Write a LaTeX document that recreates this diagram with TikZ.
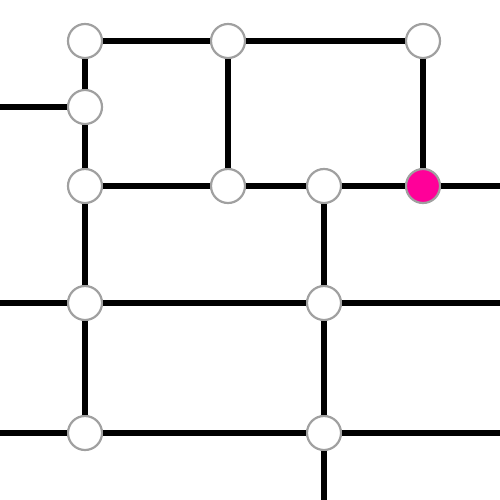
\documentclass[tikz,border=0pt]{standalone}
\definecolor{nodegray}{HTML}{A0A0A0}
\definecolor{hot}{HTML}{FF0099}
\begin{document}
\begin{tikzpicture}[x=0.01cm,y=-0.01cm,
  edge/.style={line width=0.06cm,black},
  vtx/.style={circle,draw=nodegray,line width=0.022cm,fill=white,minimum size=0.34cm,inner sep=0pt},
  hotvtx/.style={vtx,fill=hot}]
\useasboundingbox (0,0) rectangle (500,500);
\coordinate (L1) at (0,107);
\coordinate (R1) at (500,186);
\coordinate (L2) at (0,303);
\coordinate (R2) at (500,303);
\coordinate (L3) at (0,433);
\coordinate (R3) at (500,433);
\coordinate (B) at (324,500);
\node[vtx] (a) at (85,41) {};
\node[vtx] (b) at (228,41) {};
\node[vtx] (c) at (423,41) {};
\node[vtx] (d) at (85,107) {};
\node[vtx] (e) at (85,186) {};
\node[vtx] (f) at (228,186) {};
\node[vtx] (g) at (324,186) {};
\node[hotvtx] (h) at (423,186) {};
\node[vtx] (i) at (85,303) {};
\node[vtx] (j) at (324,303) {};
\node[vtx] (k) at (85,433) {};
\node[vtx] (l) at (324,433) {};
\begin{scope}[on background layer/.style={}]
\end{scope}
\draw[edge] (a) -- (b);
\draw[edge] (b) -- (c);
\draw[edge] (b) -- (f);
\draw[edge] (c) -- (h);
\draw[edge] (L1) -- (d);
\draw[edge] (a) -- (d);
\draw[edge] (d) -- (e);
\draw[edge] (e) -- (i);
\draw[edge] (i) -- (k);
\draw[edge] (e) -- (f);
\draw[edge] (f) -- (g);
\draw[edge] (g) -- (h);
\draw[edge] (h) -- (R1);
\draw[edge] (g) -- (j);
\draw[edge] (j) -- (l);
\draw[edge] (l) -- (B);
\draw[edge] (L2) -- (i);
\draw[edge] (i) -- (j);
\draw[edge] (j) -- (R2);
\draw[edge] (L3) -- (k);
\draw[edge] (k) -- (l);
\draw[edge] (l) -- (R3);
\end{tikzpicture}
\end{document}
